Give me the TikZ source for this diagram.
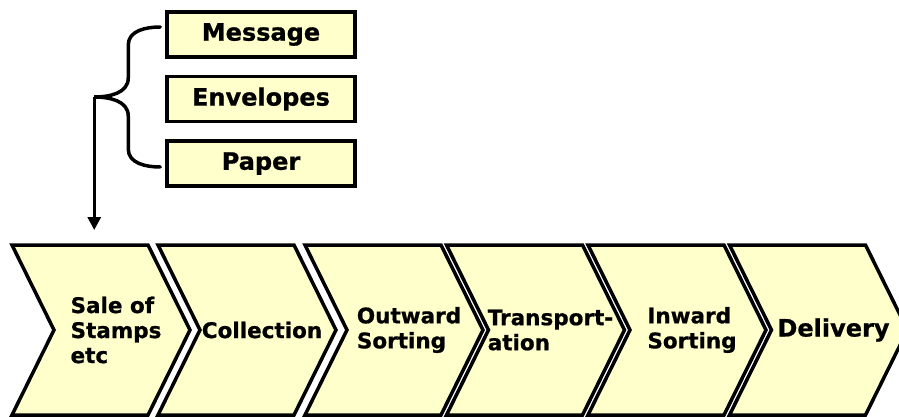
\documentclass[tikz,border=0pt]{standalone}
\usepackage{fontspec}
\setmainfont{DejaVu Sans}[BoldFeatures={FakeBold=0.8}]
\usetikzlibrary{
	positioning
	,arrows.meta
}
\definecolor{paleyellow}{HTML}{FFFFCC}
\tikzset{
	item box/.style={
		draw
		,fill=paleyellow
		,line width=3.5pt
		,minimum width=188pt
		,minimum height=45pt
		,inner sep=0mm
		,font=\fontsize{24}{28}\selectfont\bfseries
	}
	,chevron/.style={
		draw
		,fill=paleyellow
		,line width=3.5pt
		,line join=miter
	}
	,chevron text/.style={
		align=left
		,inner sep=0mm
		,font=\fontsize{#1}{25}\selectfont\bfseries
	}
	,brace line/.style={
		line width=3.5pt
		,line cap=round
	}
	,feed arrow/.style={
		line width=3pt
		,-{Triangle[length=13pt,width=13pt]}
		,shorten >=15pt
	}
}

\begin{document}
\begin{tikzpicture}[x=1pt, y=-1pt]
\useasboundingbox (0,0) rectangle (899,417);
\node[item box] (msg) at(261, 34.5) {Message};
\node[item box, below=16pt of msg] (env) {Envelopes};
\node[item box, below=16pt of env] (paper) {Paper};
\draw[brace line] ([shift={(-5pt,7.5pt)}]msg.west)
	to[out=180,in=90] ++(-32,18) -- ++(0,33) to[out=-90,in=0] ++(-34,19) coordinate (brace-tip)
	to[out=0,in=90] ++(34,19) -- ++(0,33) to[out=-90,in=180] ++(32,18);
\foreach \x/\name/\txt/\sz in {12/sale/{Sale of\\Stamps\\etc}/21.5,
	158/coll/{Collection}/21.5,
	305/outw/{Outward\\Sorting}/21.5,
	446.5/trans/{Transport-\\ation}/21.5,
	588/inw/{Inward\\Sorting}/21.5,
	729.5/deliv/{Delivery}/24}{
	\draw[chevron] (\x,245) coordinate (\name-nw) -- ++(136,0) -- ++(42,85) -- ++(-42,85) -- ++(-136,0) -- ++(42,-85) -- cycle;
	\node[chevron text=\sz] (\name) at(\x+104, 330) {\txt};
}
\draw[feed arrow] (brace-tip) -- (brace-tip |- sale-nw);
\end{tikzpicture}
\end{document}
